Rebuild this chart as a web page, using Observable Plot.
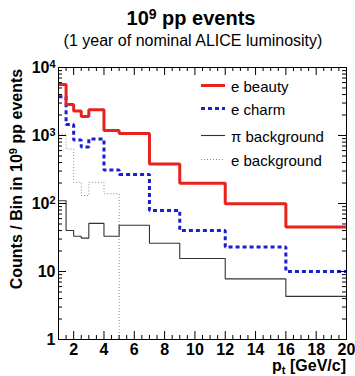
<!DOCTYPE html>
<html><head><meta charset="utf-8">
<script src="https://cdn.jsdelivr.net/npm/d3@7"></script>
<script src="https://cdn.jsdelivr.net/npm/@observablehq/plot@0.6"></script>
<style>
body{margin:0;background:#fff;font-family:"Liberation Sans",Arial,Helvetica,sans-serif;}
#wrap{position:relative;width:355px;height:376px;overflow:hidden;background:#fff;}
#wrap > svg{position:absolute;left:0;top:0;}
.abs{position:absolute;white-space:nowrap;color:#000;}
#title{left:41px;width:300px;top:8px;text-align:center;font-size:20px;line-height:20px;font-weight:bold;}
#subtitle{left:-7px;width:400px;top:32px;text-align:center;font-size:16px;line-height:18px;}
#ylab{left:-133px;top:169px;width:300px;height:20px;line-height:20px;text-align:center;font-size:16px;font-weight:bold;transform:rotate(-90deg);transform-origin:150px 10px;}
#xlab{right:9px;top:356px;line-height:20px;font-size:16px;font-weight:bold;}
sup{font-size:0.7em;vertical-align:0.45em;line-height:0;}
sub{font-size:0.7em;vertical-align:-0.25em;line-height:0;}
.leg{position:absolute;left:200px;width:150px;font-size:15px;line-height:18px;}
.leg svg{position:absolute;left:0;top:0;}
.leg span{position:absolute;left:31px;top:-9px;white-space:nowrap;}
</style></head>
<body>
<div id="wrap">
  <div id="chart"></div>
  <div class="abs" id="title">10<sup>9</sup> pp events</div>
  <div class="abs" id="subtitle">(1 year of nominal ALICE luminosity)</div>
  <div class="abs" id="ylab">Counts / Bin in 10<sup>9</sup> pp events</div>
  <div class="abs" id="xlab">p<sub>t</sub> [GeV/c]</div>
  <div id="legend"></div>
</div>
<script>
// bin edges (GeV/c)
const edges = [1, 1.5, 2, 2.5, 3, 4, 5, 7, 9, 12, 16, 20];
// counts per bin
const eBeauty = [5600, 2850, 2300, 1900, 2400, 1180, 1070, 380, 198, 99, 45];
const eCharm  = [3700, 1450, 860, 680, 890, 310, 268, 79, 40, 23, 10];
const piBkg   = [110, 40, 33, 31, 51, 33, 48, 26, 15.5, 7.8, 4.3];
const eBkg    = [1050, 635, 205, 131, 205, 139, 0, 0, 0, 0, 0];
const seriesNames = ["e beauty", "e charm", "\u03c0 background", "e background"];
const xTicks = [2, 4, 6, 8, 10, 12, 14, 16, 18, 20];
const yTicks = [1, 10, 100, 1000, 10000];

const W = 355, H = 376, mL = 58, mR = 9, mT = 67, mB = 37;
const plotW = W - mL - mR, plotH = H - mT - mB;
const yMin = 1;

function steps(vals) {
  const pts = vals.map((v, i) => ({x: edges[i], y: Math.max(v, yMin)}));
  pts.push({x: edges[edges.length - 1], y: Math.max(vals[vals.length - 1], yMin)});
  return pts;
}
const minorX = d3.range(1.5, 20, 0.5).filter(v => v % 2 !== 0);
const minorY = [];
for (const d of [1, 10, 100, 1000]) for (let k = 2; k <= 9; k++) minorY.push(k * d);

const styles = [
  {data: eBkg, stroke: "#8a8a8a", strokeWidth: 1, strokeDasharray: "1,2"},
  {data: piBkg, stroke: "#333", strokeWidth: 1.1},
  {data: eCharm, stroke: "#1c1fd0", strokeWidth: 3, strokeDasharray: "4,3"},
  {data: eBeauty, stroke: "#e8221c", strokeWidth: 3}
];

const chart = Plot.plot({
  width: W, height: H,
  marginLeft: mL, marginRight: mR, marginTop: mT, marginBottom: mB,
  style: {fontFamily: "Liberation Sans, Arial, sans-serif", fontSize: "16px", background: "#fff", color: "#000"},
  x: {type: "linear", domain: [1, 20]},
  y: {type: "log", domain: [1, 10000]},
  marks: [
    ...styles.map(s => Plot.line(steps(s.data), {x: "x", y: "y", curve: "step-after",
      stroke: s.stroke, strokeWidth: s.strokeWidth, strokeDasharray: s.strokeDasharray, strokeLinejoin: "miter", strokeLinecap: "butt"})),
    Plot.tickY(yTicks, {y: d => d, insetRight: plotW - 8, stroke: "#000"}),
    Plot.tickY(yTicks, {y: d => d, insetLeft: plotW - 8, stroke: "#000"}),
    Plot.tickY(minorY, {y: d => d, insetRight: plotW - 4, stroke: "#000"}),
    Plot.tickY(minorY, {y: d => d, insetLeft: plotW - 4, stroke: "#000"}),
    Plot.tickX(xTicks, {x: d => d, insetTop: plotH - 8, stroke: "#000"}),
    Plot.tickX(xTicks, {x: d => d, insetBottom: plotH - 8, stroke: "#000"}),
    Plot.tickX(minorX, {x: d => d, insetTop: plotH - 4, stroke: "#000"}),
    Plot.tickX(minorX, {x: d => d, insetBottom: plotH - 4, stroke: "#000"}),
    Plot.axisY(yTicks, {tickSize: 0, tickPadding: 3, label: null, fontWeight: "bold", fontSize: 16,
      tickFormat: d => d <= 10 ? String(d) : "10^" + Math.round(Math.log10(d))}),
    Plot.axisX(xTicks, {tickSize: 0, tickPadding: 4, label: null, fontWeight: "bold", fontSize: 16}),
    Plot.frame({stroke: "#000", strokeWidth: 1})
  ]
});
// superscript exponents on log tick labels
const ns = "http://www.w3.org/2000/svg";
chart.querySelectorAll("text").forEach(t => {
  const s = t.textContent;
  if (s.includes("^")) {
    const [b, e] = s.split("^");
    t.textContent = b;
    const ts = document.createElementNS(ns, "tspan");
    ts.setAttribute("dy", "-0.45em");
    ts.setAttribute("font-size", "0.68em");
    ts.textContent = e;
    t.appendChild(ts);
  }
});
document.getElementById("chart").appendChild(chart);

// legend
const legY = [86.7, 110, 137, 161];
const legOrder = [3, 2, 1, 0];
const legend = document.getElementById("legend");
seriesNames.forEach((name, i) => {
  const s = styles[legOrder[i]];
  const div = document.createElement("div");
  div.className = "leg";
  div.style.top = legY[i] + "px";
  div.innerHTML = `<svg width="28" height="4" style="top:-2px;overflow:visible"><line x1="1" x2="25" y1="0.5" y2="0.5" stroke="${s.stroke}" stroke-width="${s.strokeWidth}" ${s.strokeDasharray ? `stroke-dasharray="${s.strokeDasharray}"` : ""}/></svg><span>${name}</span>`;
  legend.appendChild(div);
});
</script>
</body></html>
